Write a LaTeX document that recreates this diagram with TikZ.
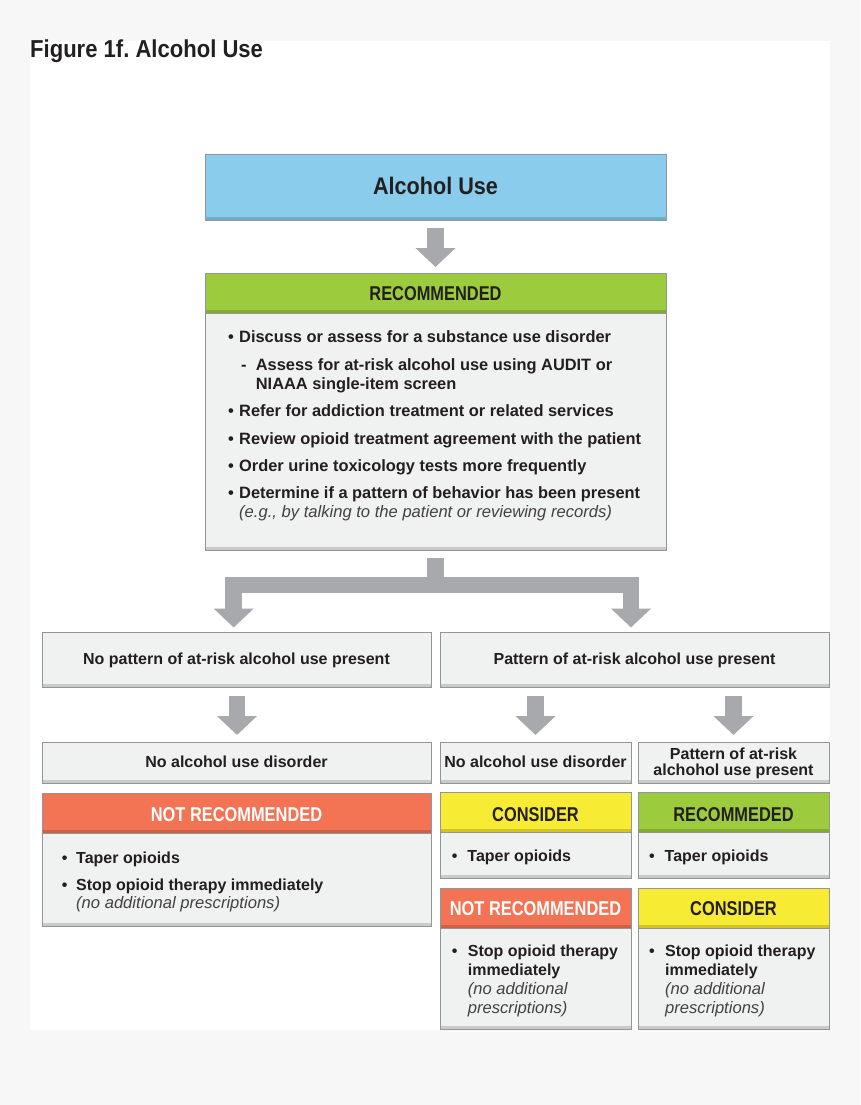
\documentclass[tikz,border=0pt]{standalone}
\usepackage{fontspec}
\setmainfont{Liberation Sans}
\newfontfamily\condfont[FakeStretch=0.82]{Liberation Sans}
\newfontfamily\titlefont[FakeStretch=0.9]{Liberation Sans}
\usetikzlibrary{arrows.meta,calc}
\definecolor{pagebg}{HTML}{F7F7F7}
\definecolor{cblue}{HTML}{89CCEC}
\definecolor{cgreen}{HTML}{9CCB3E}
\definecolor{corange}{HTML}{F37454}
\definecolor{cyellow}{HTML}{F7EB34}
\definecolor{cgray}{HTML}{F0F1F1}
\definecolor{boxborder}{HTML}{939598}
\definecolor{arrowgray}{HTML}{A7A9AC}
\definecolor{ink}{HTML}{231F20}
\frenchspacing
\newcommand\bigbody{\fontsize{16.4}{19}\selectfont\bfseries}
\newcommand\smallbody{\fontsize{16}{19}\selectfont\bfseries}
\newcommand\bigital{\fontsize{16.6}{19}\selectfont\itshape}
\newcommand\smallital{\fontsize{16.6}{19}\selectfont\itshape}
\newcommand\headfont{\condfont\bfseries\fontsize{20}{22}\selectfont}
\begin{document}
\begin{tikzpicture}[x=1pt,y=-1pt,
  box/.style={draw=boxborder, line width=1pt, inner sep=0pt, outer sep=0pt,
    path picture={\fill[black,opacity=.16] (path picture bounding box.south west) rectangle ([yshift=3.5pt]path picture bounding box.south east);}},
  graybox/.style={box, fill=cgray},
  txt/.style={inner sep=0pt, anchor=base west, text=ink, font=\bigbody},
  stxt/.style={inner sep=0pt, anchor=base west, text=ink, font=\smallbody},
  ctxt/.style={inner sep=0pt, anchor=base, text=ink, font=\smallbody},
  ital/.style={inner sep=0pt, anchor=base west, text=ink!85, font=\bigital},
  sital/.style={inner sep=0pt, anchor=base west, text=ink!85, font=\smallital},
  headtxt/.style={inner sep=0pt, anchor=base, text=ink, font=\headfont},
  blockarrow/.style={draw=arrowgray, line width=16.5pt, line join=miter,
    -{Triangle[width=39pt,length=19pt]}}
]
\useasboundingbox (0,0) rectangle (860,1105);
\fill[pagebg] (0,0) rectangle (860,1105);
\fill[white] (30,41) rectangle (830,1030);

% title
\node[inner sep=0pt, anchor=base west, text=ink, font=\titlefont\bfseries\fontsize{24.5}{26}\selectfont] (title) at (30,58) {Figure 1f. Alcohol Use};

% top box
\node[box, fill=cblue, minimum width=461, minimum height=66] (alc) at (435.5,187) {};
\node[inner sep=0pt, anchor=base, text=ink, font=\titlefont\bfseries\fontsize{24}{26}\selectfont] (alctxt) at (435.5,194.3) {Alcohol Use};

% recommended box
\node[box, fill=cgreen, minimum width=461, minimum height=40] (rechead) at (435.5,293) {};
\node[headtxt] (rechtxt) at (435.5,300.7) {RECOMMENDED};
\node[graybox, minimum width=461, minimum height=237] (recbody) at (435.5,431.5) {};
\node[txt] (l1) at (228,342.7) {\makebox[11pt][l]{•}Discuss or assess for a substance use disorder};
\node[txt] (l2) at (241,370) {\makebox[14.7pt][l]{-}Assess for at-risk alcohol use using AUDIT or};
\node[txt] (l2b) at (255.7,389) {NIAAA single-item screen};
\node[txt] (l3) at (228,416.7) {\makebox[11pt][l]{•}Refer for addiction treatment or related services};
\node[txt] (l4) at (228,444) {\makebox[11pt][l]{•}Review opioid treatment agreement with the patient};
\node[txt] (l5) at (228,471) {\makebox[11pt][l]{•}Order urine toxicology tests more frequently};
\node[txt] (l6) at (228,498) {\makebox[11pt][l]{•}Determine if a pattern of behavior has been present};
\node[ital] (l6b) at (239,517) {(e.g., by talking to the patient or reviewing records)};

% second row
\node[graybox, minimum width=389, minimum height=55] (nopat) at (236.5,659.5) {};
\node[ctxt] (nopattxt) at (236.5,664.5) {No pattern of at-risk alcohol use present};
\node[graybox, minimum width=389, minimum height=55] (pat) at (634.5,659.5) {};
\node[ctxt] (pattxt) at (634.5,664.5) {Pattern of at-risk alcohol use present};

% third row
\node[graybox, minimum width=389, minimum height=41] (noaud1) at (236.5,762.5) {};
\node[ctxt] (noaud1txt) at (236.5,767.7) {No alcohol use disorder};
\node[graybox, minimum width=191, minimum height=41] (noaud2) at (535.5,762.5) {};
\node[ctxt] (noaud2txt) at (535.5,767.5) {No alcohol use disorder};
\node[graybox, minimum width=191, minimum height=41] (patrisk) at (733.5,762.5) {};
\node[ctxt] (patrisktxt) at (733.5,759) {Pattern of at-risk};
\node[ctxt] (patrisktxtb) at (733.5,775.7) {alchohol use present};

% left: not recommended
\node[box, fill=corange, minimum width=389, minimum height=40] (nr1head) at (236.5,813) {};
\node[headtxt, text=white] (nr1htxt) at (236.5,821.7) {NOT RECOMMENDED};
\node[graybox, minimum width=389, minimum height=93] (nr1body) at (236.5,879.5) {};
\node[stxt] (nr1a) at (61.7,863.3) {\makebox[14.3pt][l]{•}Taper opioids};
\node[stxt] (nr1b) at (61.7,890) {\makebox[14.3pt][l]{•}Stop opioid therapy immediately};
\node[sital] (nr1c) at (76,908.7) {(no additional prescriptions)};

% middle: consider
\node[box, fill=cyellow, minimum width=191, minimum height=40] (c1head) at (535.5,812) {};
\node[headtxt] (c1htxt) at (535.5,821) {CONSIDER};
\node[graybox, minimum width=191, minimum height=46] (c1body) at (535.5,855) {};
\node[stxt] (c1a) at (451.7,861.7) {\makebox[15.5pt][l]{•}Taper opioids};

% right: recommeded
\node[box, fill=cgreen, minimum width=191, minimum height=40] (r2head) at (733.5,812) {};
\node[headtxt] (r2htxt) at (733.5,821) {RECOMMEDED};
\node[graybox, minimum width=191, minimum height=46] (r2body) at (733.5,855) {};
\node[stxt] (r2a) at (649,861.7) {\makebox[15.5pt][l]{•}Taper opioids};

% middle: not recommended
\node[box, fill=corange, minimum width=191, minimum height=40] (nr2head) at (535.5,908) {};
\node[headtxt, text=white] (nr2htxt) at (535.5,915.7) {NOT RECOMMENDED};
\node[graybox, minimum width=191, minimum height=101] (nr2body) at (535.5,978.5) {};
\node[stxt] (nr2a) at (451.7,956) {\makebox[16pt][l]{•}Stop opioid therapy};
\node[stxt] (nr2b) at (467.7,975) {immediately};
\node[sital] (nr2c) at (467.7,994.3) {(no additional};
\node[sital] (nr2d) at (467.7,1013.3) {prescriptions)};

% right: consider
\node[box, fill=cyellow, minimum width=191, minimum height=40] (c2head) at (733.5,908) {};
\node[headtxt] (c2htxt) at (733.5,915.7) {CONSIDER};
\node[graybox, minimum width=191, minimum height=101] (c2body) at (733.5,978.5) {};
\node[stxt] (c2a) at (649,956) {\makebox[16pt][l]{•}Stop opioid therapy};
\node[stxt] (c2b) at (665,975) {immediately};
\node[sital] (c2c) at (665,994.3) {(no additional};
\node[sital] (c2d) at (665,1013.3) {prescriptions)};

% arrows
\draw[blockarrow] ($(alc.south)+(0,8)$) -- ($(rechead.north)+(0,-6)$);
\coordinate (stem) at ($(recbody.south)+(0,8)$);
\draw[blockarrow] (stem) -- ++(0,27) -| ($(nopat.north)+(-2.8,-4.5)$);
\draw[blockarrow] (stem) -- ++(0,27) -| ($(pat.north)+(-3.5,-4.5)$);
\draw[blockarrow] ($(nopat.south)+(0.5,9)$) -- ($(noaud1.north)+(0.5,-7)$);
\draw[blockarrow] ($(pat.south -| noaud2.north)+(0,9)$) -- ($(noaud2.north)+(0,-7)$);
\draw[blockarrow] ($(pat.south -| patrisk.north)+(0,9)$) -- ($(patrisk.north)+(0,-7)$);
\end{tikzpicture}
\end{document}
